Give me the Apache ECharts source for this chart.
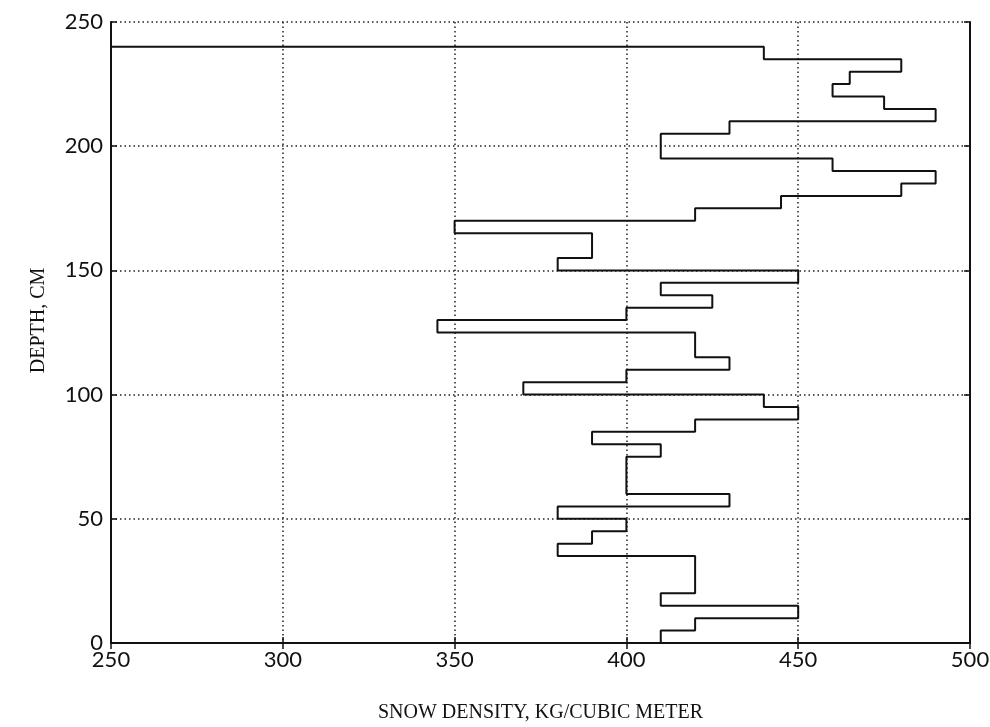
<!DOCTYPE html>
<html>
<head>
<meta charset="utf-8">
<title>Snow density profile</title>
<script src="https://cdn.jsdelivr.net/npm/echarts@6/dist/echarts.min.js"></script>
<style>
  html, body { margin: 0; padding: 0; background: #fff; }
  #chart { width: 990px; height: 727px; }
</style>
</head>
<body>
<div id="chart"></div>
<script>
// layer tops (cm) and the density of each layer, read bottom to top
var layerTop = [5, 10, 15, 20, 35, 40, 45, 50, 55, 60, 75, 80, 85, 90, 95, 100,
  105, 110, 115, 125, 130, 135, 140, 145, 150, 155, 165, 170, 175, 180, 185,
  190, 195, 205, 210, 215, 220, 225, 230, 235, 240];
var density = [410, 420, 450, 410, 420, 380, 390, 400, 380, 430, 400, 410, 390, 420, 450, 440,
  370, 400, 430, 420, 345, 400, 425, 410, 450, 380, 390, 350, 420, 445, 480,
  490, 460, 410, 430, 490, 475, 460, 465, 480, 440];
var xTicks = [250, 300, 350, 400, 450, 500];
var yTicks = [0, 50, 100, 150, 200, 250];

// step outline: each layer is a vertical run at its density
var points = [];
var bottom = 0;
for (var i = 0; i < layerTop.length; i++) {
  points.push([density[i], bottom]);
  points.push([density[i], layerTop[i]]);
  bottom = layerTop[i];
}
// the top layer closes back to the left axis
points.push([xTicks[0], bottom]);

var myChart = echarts.init(document.getElementById("chart"));

var labelFont = {
  color: "#111",
  fontSize: 22,
  fontFamily: "Lato"
};
var nameFont = {
  color: "#111",
  fontSize: 20,
  fontFamily: "Liberation Serif"
};
var frameLine = { show: true, lineStyle: { color: "#111", width: 2 } };
var tickIn = { show: true, inside: true, length: 6, lineStyle: { color: "#111", width: 1.5 } };
var dotted = { show: true, lineStyle: { color: "#222", width: 1.5, type: [1.5, 3] } };

var option = {
  animation: false,
  backgroundColor: "#fff",
  grid: { left: 111, right: 20, top: 22, bottom: 84, outerBoundsMode: "none" },
  xAxis: [
    {
      type: "value",
      position: "bottom",
      min: xTicks[0],
      max: xTicks[xTicks.length - 1],
      interval: 50,
      name: "SNOW DENSITY, KG/CUBIC METER",
      nameLocation: "middle",
      nameGap: 60,
      nameTextStyle: nameFont,
      axisLine: frameLine,
      axisTick: tickIn,
      axisLabel: Object.assign({ margin: 6 }, labelFont),
      splitLine: dotted
    },
    {
      type: "value",
      position: "top",
      min: xTicks[0],
      max: xTicks[xTicks.length - 1],
      interval: 50,
      axisLine: frameLine,
      axisTick: tickIn,
      axisLabel: { show: false },
      splitLine: { show: false }
    }
  ],
  yAxis: [
    {
      type: "value",
      position: "left",
      min: yTicks[0],
      max: yTicks[yTicks.length - 1],
      interval: 50,
      name: "DEPTH, CM",
      nameLocation: "middle",
      nameGap: 62,
      nameTextStyle: Object.assign({ padding: [0, 0, 0, 24] }, nameFont),
      axisLine: frameLine,
      axisTick: tickIn,
      axisLabel: Object.assign({ margin: 8 }, labelFont),
      splitLine: dotted
    },
    {
      type: "value",
      position: "right",
      min: yTicks[0],
      max: yTicks[yTicks.length - 1],
      interval: 50,
      axisLine: frameLine,
      axisTick: tickIn,
      axisLabel: { show: false },
      splitLine: { show: false }
    }
  ],
  series: [
    {
      name: "density",
      type: "line",
      xAxisIndex: 0,
      yAxisIndex: 0,
      showSymbol: false,
      symbol: "none",
      lineStyle: { color: "#111", width: 2 },
      data: points
    }
  ]
};
myChart.setOption(option);
</script>
</body>
</html>
